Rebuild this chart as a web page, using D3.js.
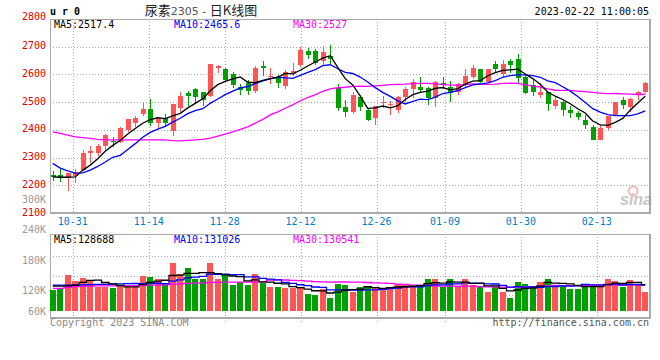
<!DOCTYPE html>
<html>
<head>
<meta charset="utf-8">
<script src="https://cdn.jsdelivr.net/npm/d3@7"></script>
<style>
  body { margin: 0; background: #fff; }
  svg { display: block; }
</style>
</head>
<body>
<div id="chart"></div>
<script>
// trading days shown (2022-10-26 .. 2023-02-22)
var dates = [
  "2022-10-26","2022-10-27","2022-10-28","2022-10-31",
  "2022-11-01","2022-11-02","2022-11-03","2022-11-04","2022-11-07","2022-11-08","2022-11-09","2022-11-10","2022-11-11",
  "2022-11-14","2022-11-15","2022-11-16","2022-11-17","2022-11-18","2022-11-21","2022-11-22","2022-11-23","2022-11-24","2022-11-25",
  "2022-11-28","2022-11-29","2022-11-30",
  "2022-12-01","2022-12-02","2022-12-05","2022-12-06","2022-12-07","2022-12-08","2022-12-09",
  "2022-12-12","2022-12-13","2022-12-14","2022-12-15","2022-12-16","2022-12-19","2022-12-20","2022-12-21","2022-12-22","2022-12-23",
  "2022-12-26","2022-12-27","2022-12-28","2022-12-29","2022-12-30",
  "2023-01-03","2023-01-04","2023-01-05","2023-01-06","2023-01-09","2023-01-10","2023-01-11","2023-01-12","2023-01-13",
  "2023-01-16","2023-01-17","2023-01-18","2023-01-19","2023-01-20","2023-01-30","2023-01-31",
  "2023-02-01","2023-02-02","2023-02-03","2023-02-06","2023-02-07","2023-02-08","2023-02-09","2023-02-10",
  "2023-02-13","2023-02-14","2023-02-15","2023-02-16","2023-02-17","2023-02-20","2023-02-21","2023-02-22"
];

var open = [2238,2238,2230,2235,2254,2315,2316,2340,2360,2355,2399,2426,2458,2475,2423,2441,2397,2480,2533,2546,
            2536,2521,2624,2618,2600,2554,2569,2539,2631,2591,2590,2557,2600,2633,2686,2686,2650,2668,2552,2483,
            2466,2519,2473,2441,2497,2491,2470,2518,2546,2554,2550,2514,2569,2554,2535,2562,2589,2618,2574,2637,
            2600,2648,2655,2592,2562,2527,2535,2485,2502,2473,2461,2437,2410,2363,2405,2449,2506,2482,2526,2538];
var high = [2253,2259,2246,2258,2328,2340,2349,2385,2375,2410,2440,2449,2497,2510,2447,2457,2494,2537,2540,2551,
            2538,2636,2635,2623,2607,2567,2581,2632,2650,2623,2599,2617,2643,2698,2694,2690,2704,2707,2564,2508,
            2538,2526,2475,2487,2523,2505,2523,2556,2582,2589,2554,2576,2589,2576,2570,2618,2633,2621,2621,2648,
            2651,2654,2673,2601,2580,2568,2538,2520,2505,2485,2469,2452,2417,2416,2449,2499,2517,2514,2542,2574];
var low = [2214,2211,2178,2210,2254,2280,2307,2328,2337,2351,2393,2409,2449,2414,2402,2414,2379,2466,2486,2496,
           2487,2519,2605,2576,2552,2524,2524,2533,2594,2567,2552,2548,2594,2626,2655,2635,2632,2638,2468,2448,
           2458,2467,2431,2419,2479,2452,2461,2502,2514,2532,2491,2481,2546,2502,2526,2556,2582,2568,2568,2606,
           2592,2604,2570,2529,2523,2514,2467,2476,2449,2443,2435,2404,2363,2363,2400,2449,2476,2466,2508,2532];
var close = [2229,2228,2245,2249,2318,2324,2342,2381,2355,2408,2438,2443,2475,2423,2439,2423,2492,2521,2522,2519,
             2507,2636,2632,2581,2563,2543,2540,2623,2624,2593,2569,2610,2614,2689,2671,2640,2682,2656,2480,2466,
             2526,2481,2435,2487,2501,2493,2520,2546,2574,2543,2514,2571,2562,2532,2565,2594,2625,2574,2618,2620,
             2637,2633,2586,2532,2537,2535,2494,2509,2473,2460,2445,2418,2363,2405,2449,2499,2490,2512,2535,2570];
var volume = [121900,126500,151400,139600,145500,141600,128400,128400,125800,129800,
              128400,128400,150000,147500,143500,136300,175000,153400,165200,143500,
              143500,175000,143500,153400,131700,138300,131700,153400,135100,127800,
              127800,125200,126500,125200,114000,111500,123300,106200,134300,131700,
              118600,127800,129200,125200,125200,125200,134300,131700,130400,131700,
              143500,143500,127800,143500,127800,143500,131700,129200,118600,127800,
              118600,106200,138300,134300,130400,138300,143500,131700,131700,123900,
              123900,131700,131700,131700,143500,139600,127800,141600,131700,118600];

// moving-average values before a full window exists
var ma5Lead = [2230,2229,2229,2230];
var ma10Lead = [2279,2262,2252,2244,2245,2255,2268,2284,2301];
var ma30Lead = [2393,2387,2381,2375,2372,2369,2366,2364,2364,2364,2364,2364,2364,2364,2364,2364,2361,2360,2362,2364,
                2366,2370,2377,2385,2393,2402,2411,2424,2438];
var volMa5Lead = [129500,129500,130000,131000];
var volMa10Lead = [131700,131500,131500,132000,132000,132500,133000,133000,133500];
var volMa30Lead = [125200,125200,127000,128500,129000,129500,130000,130000,130000,130500,130500,130500,131000,131500,132000,
                   132000,133500,134000,135000,135500,136000,137000,137000,137500,137500,137500,137500,138000,138000];

var priceTicks = [2100,2200,2300,2400,2500,2600,2700,2800];
var volTicks = [60000,120000,180000,240000,300000];
var dateTicks = ["2022-10-31","2022-11-14","2022-11-28","2022-12-12","2022-12-26","2023-01-09","2023-01-30","2023-02-13"];

var maLegend = [["MA5:2517.4","#000"],["MA10:2465.6","#0000ff"],["MA30:2527","#ff00ff"]];
var volLegend = [["MA5:128688","#000"],["MA10:131026","#0000ff"],["MA30:130541","#ff00ff"]];

var W = 660, H = 360;
var left = 50, right = 650;
var priceTop = 19, priceBottom = 213;
var volTop = 234, volBottom = 318, volBase = 311.3;
var UP = "#ff5555", DOWN = "#00a000";
var mono = "'DejaVu Sans Mono', monospace";

var svg = d3.select("#chart").append("svg")
  .attr("width", W)
  .attr("height", H)
  .style("font-family", mono)
  .style("font-size", "10px");

var xBand = d3.scaleBand().domain(dates).range([left - 1, right - 1]);
var xGrid = d3.scalePoint().domain(dates).range([left, right]);
var cx = function(d) { return xBand(d) + xBand.bandwidth() / 2; };
var y = d3.scaleLinear().domain([2100, 2800]).range([priceBottom, priceTop]);
var yVol = d3.scaleLinear().domain([80000, 300000]).range([volBase, 199.5]).clamp(true);

function movingAvg(values, n, lead) {
  return values.map(function(v, i) {
    if (i < n - 1) return lead[i];
    return d3.mean(values.slice(i - n + 1, i + 1));
  });
}

var rows = dates.map(function(d, i) {
  return {date: d, o: open[i], h: high[i], l: low[i], c: close[i], v: volume[i]};
});

// ---- grid ----
var grid = svg.append("g")
  .attr("stroke", "#aaa")
  .attr("stroke-dasharray", "1,2")
  .attr("shape-rendering", "crispEdges");

grid.selectAll("line.h")
  .data(priceTicks.slice(1, -1))
  .enter().append("line")
  .attr("x1", left).attr("x2", right)
  .attr("y1", function(d) { return Math.round(y(d)) + 0.5; })
  .attr("y2", function(d) { return Math.round(y(d)) + 0.5; });

grid.selectAll("line.v")
  .data(dateTicks)
  .enter().append("line")
  .attr("x1", function(d) { return Math.round(xGrid(d)) + 0.5; })
  .attr("x2", function(d) { return Math.round(xGrid(d)) + 0.5; })
  .attr("y1", priceTop).attr("y2", priceBottom);

var volGridY = d3.scaleLinear().domain([0, 4]).range([315, 236]);
grid.selectAll("line.vh")
  .data([1, 2, 3])
  .enter().append("line")
  .attr("x1", left).attr("x2", right)
  .attr("y1", function(d) { return Math.round(volGridY(d)) + 0.5; })
  .attr("y2", function(d) { return Math.round(volGridY(d)) + 0.5; });

grid.selectAll("line.vv")
  .data(dateTicks)
  .enter().append("line")
  .attr("x1", function(d) { return Math.round(xGrid(d)) + 0.5; })
  .attr("x2", function(d) { return Math.round(xGrid(d)) + 0.5; })
  .attr("y1", volTop).attr("y2", volBottom + 4);

// ---- panel frames ----
var frame = svg.append("g").attr("fill", "none").attr("stroke", "#aaa").attr("shape-rendering", "crispEdges");
frame.append("line").attr("x1", left).attr("x2", right).attr("y1", priceTop + 0.5).attr("y2", priceTop + 0.5);
frame.append("line").attr("x1", left + 0.5).attr("x2", left + 0.5).attr("y1", priceTop).attr("y2", priceBottom);
frame.append("line").attr("x1", left).attr("x2", right + 1).attr("y1", priceBottom).attr("y2", priceBottom).attr("stroke-width", 2);
frame.append("line").attr("x1", right).attr("x2", right).attr("y1", priceTop).attr("y2", priceBottom).attr("stroke-width", 2);
frame.append("line").attr("x1", left).attr("x2", right).attr("y1", volTop + 0.5).attr("y2", volTop + 0.5);
frame.append("line").attr("x1", left + 0.5).attr("x2", left + 0.5).attr("y1", volTop).attr("y2", volBottom);
frame.append("line").attr("x1", left).attr("x2", right + 1).attr("y1", volBottom).attr("y2", volBottom).attr("stroke-width", 2);
frame.append("line").attr("x1", right).attr("x2", right).attr("y1", volTop).attr("y2", volBottom).attr("stroke-width", 2);

// ---- sina watermark ----
var logo = svg.append("g").attr("opacity", 0.55);
logo.append("circle").attr("cx", 633).attr("cy", 191).attr("r", 4.5)
  .attr("fill", "none").attr("stroke", "#f08080").attr("stroke-width", 2);
logo.append("text").attr("x", 636).attr("y", 205)
  .attr("text-anchor", "middle")
  .style("font-family", "'Liberation Sans', Arial, sans-serif")
  .style("font-size", "16px").style("font-style", "italic").style("font-weight", "bold")
  .attr("fill", "#999").text("sina");

// ---- candles ----
var candles = svg.append("g").attr("shape-rendering", "crispEdges")
  .selectAll("g").data(rows).enter().append("g")
  .attr("fill", function(d) { return d.c >= d.o ? UP : DOWN; })
  .attr("stroke", function(d) { return d.c >= d.o ? UP : DOWN; });

candles.append("line")
  .attr("x1", function(d) { return Math.round(cx(d.date)) + 0.5; })
  .attr("x2", function(d) { return Math.round(cx(d.date)) + 0.5; })
  .attr("y1", function(d) { return y(d.h); })
  .attr("y2", function(d) { return y(d.l); });

candles.append("rect")
  .attr("stroke", "none")
  .attr("x", function(d) { return Math.round(cx(d.date)) - 2; })
  .attr("width", 5)
  .attr("y", function(d) { return y(Math.max(d.o, d.c)); })
  .attr("height", function(d) { return Math.max(1, Math.abs(y(d.o) - y(d.c))); });

// ---- price moving averages ----
var ma5 = movingAvg(close, 5, ma5Lead);
var ma10 = movingAvg(close, 10, ma10Lead);
var ma30 = movingAvg(close, 30, ma30Lead);

var priceLine = d3.line()
  .x(function(d, i) { return cx(dates[i]); })
  .y(function(d) { return y(d); });

[[ma30, "#ff00ff"], [ma10, "#0000ff"], [ma5, "#000"]].forEach(function(s) {
  svg.append("path").datum(s[0])
    .attr("fill", "none").attr("stroke", s[1]).attr("stroke-width", 1.3)
    .attr("d", priceLine);
});

// ---- volume bars ----
svg.append("g").attr("shape-rendering", "crispEdges")
  .selectAll("rect").data(rows).enter().append("rect")
  .attr("x", function(d) { return Math.round(cx(d.date)) - 3; })
  .attr("width", 6)
  .attr("y", function(d) { return yVol(d.v); })
  .attr("height", function(d) { return volBase - yVol(d.v); })
  .attr("fill", function(d) { return d.c >= d.o ? UP : DOWN; });

var vma5 = movingAvg(volume, 5, volMa5Lead);
var vma10 = movingAvg(volume, 10, volMa10Lead);
var vma30 = movingAvg(volume, 30, volMa30Lead);

var volLine = d3.line()
  .curve(d3.curveStep)
  .x(function(d, i) { return cx(dates[i]); })
  .y(function(d) { return yVol(d); });

[[vma30, "#ff00ff"], [vma10, "#0000ff"], [vma5, "#000"]].forEach(function(s) {
  svg.append("path").datum(s[0])
    .attr("fill", "none").attr("stroke", s[1]).attr("stroke-width", 1.3)
    .attr("d", volLine);
});

// ---- axis labels ----
svg.append("g").attr("text-anchor", "end").attr("fill", "#e00000")
  .selectAll("text").data(priceTicks).enter().append("text")
  .attr("x", 46)
  .attr("y", function(d, i) { return i === priceTicks.length - 1 ? y(d) + 0.5 : y(d) + 2.5; })
  .text(function(d) { return d; });

svg.append("g").attr("text-anchor", "end").attr("fill", "#999")
  .selectAll("text").data(volTicks).enter().append("text")
  .attr("x", 46)
  .attr("y", function(d) { return yVol(d) + 3.5; })
  .text(function(d) { return (d / 1000) + "K"; });

svg.append("g").attr("text-anchor", "middle").attr("fill", "#0080c8")
  .selectAll("text").data(dateTicks).enter().append("text")
  .attr("x", function(d) { return xGrid(d); })
  .attr("y", 225)
  .text(function(d) { return d.slice(5); });

// ---- legends ----
var legX = [54, 174, 293];
svg.append("g").selectAll("text").data(maLegend).enter().append("text")
  .attr("x", function(d, i) { return legX[i]; })
  .attr("y", 27.5)
  .attr("fill", function(d) { return d[1]; })
  .text(function(d) { return d[0]; });

svg.append("g").selectAll("text").data(volLegend).enter().append("text")
  .attr("x", function(d, i) { return legX[i]; })
  .attr("y", 242.5)
  .attr("fill", function(d) { return d[1]; })
  .text(function(d) { return d[0]; });

// ---- header / footer ----
svg.append("text").attr("x", 50).attr("y", 15)
  .style("font-weight", "bold").style("letter-spacing", "6px")
  .attr("fill", "#000").text("ur0");

var title = svg.append("text").attr("x", 201).attr("y", 15)
  .attr("text-anchor", "middle")
  .style("font-family", "'Noto Sans CJK SC', sans-serif")
  .style("font-size", "13px")
  .attr("fill", "#222");
title.append("tspan").text("尿素");
title.append("tspan").style("font-family", "'DejaVu Sans', sans-serif").style("font-size", "11px")
  .attr("fill", "#555").text("2305 - ");
title.append("tspan").text("日K线图");

svg.append("text").attr("x", 649).attr("y", 15)
  .attr("text-anchor", "end").attr("fill", "#000")
  .text("2023-02-22 11:00:05");

svg.append("text").attr("x", 50).attr("y", 326)
  .attr("fill", "#888").text("Copyright 2023 SINA.COM");

svg.append("text").attr("x", 649).attr("y", 326)
  .attr("text-anchor", "end").attr("fill", "#555")
  .text("http://finance.sina.com.cn");
</script>
</body>
</html>
